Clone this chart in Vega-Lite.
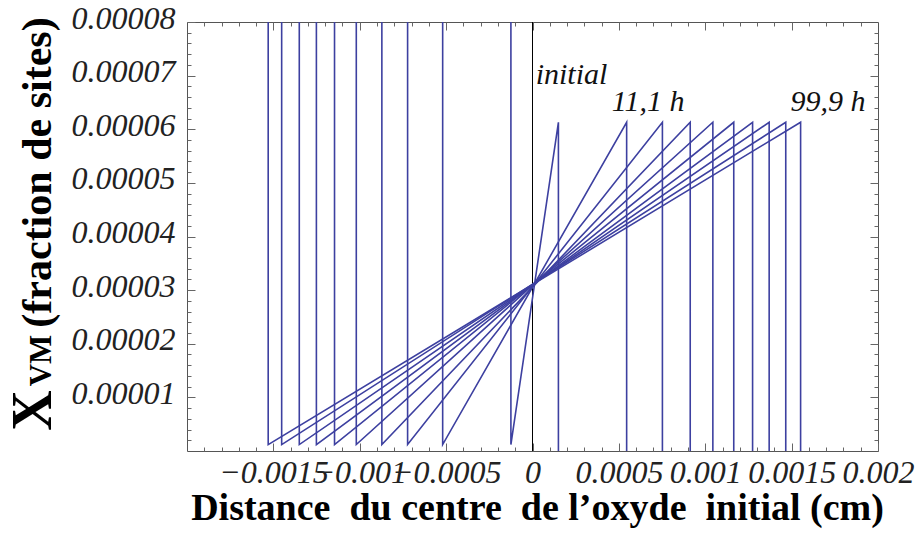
{
  "$schema": "https://vega.github.io/schema/vega-lite/v6.json",
  "width": 691,
  "height": 429,
  "autosize": "none",
  "padding": {"left": 187, "top": 22, "right": 42, "bottom": 83},
  "background": "white",
  "config": {
    "view": {"stroke": "#555555", "strokeWidth": 1},
    "axis": {"domain": false, "grid": false, "tickColor": "#666666", "tickWidth": 1, "labelFlush": false, "labelOverlap": false}
  },
  "datasets": {
    "curves": [
      {"c": "initial", "i": 0, "x": -0.000125, "y": 0.00008},
      {"c": "initial", "i": 1, "x": -0.000125, "y": 0.0000012},
      {"c": "initial", "i": 2, "x": 0.00015, "y": 0.0000613},
      {"c": "initial", "i": 3, "x": 0.00015, "y": 0},
      {"c": "t1", "i": 0, "x": -0.00052, "y": 0.00008},
      {"c": "t1", "i": 1, "x": -0.00052, "y": 0.0000012},
      {"c": "t1", "i": 2, "x": 0.000545, "y": 0.0000613},
      {"c": "t1", "i": 3, "x": 0.000545, "y": 0},
      {"c": "t2", "i": 0, "x": -0.000723, "y": 0.00008},
      {"c": "t2", "i": 1, "x": -0.000723, "y": 0.0000012},
      {"c": "t2", "i": 2, "x": 0.000752, "y": 0.0000613},
      {"c": "t2", "i": 3, "x": 0.000752, "y": 0},
      {"c": "t3", "i": 0, "x": -0.000872, "y": 0.00008},
      {"c": "t3", "i": 1, "x": -0.000872, "y": 0.0000012},
      {"c": "t3", "i": 2, "x": 0.000913, "y": 0.0000613},
      {"c": "t3", "i": 3, "x": 0.000913, "y": 0},
      {"c": "t4", "i": 0, "x": -0.00102, "y": 0.00008},
      {"c": "t4", "i": 1, "x": -0.00102, "y": 0.0000012},
      {"c": "t4", "i": 2, "x": 0.001044, "y": 0.0000613},
      {"c": "t4", "i": 3, "x": 0.001044, "y": 0},
      {"c": "t5", "i": 0, "x": -0.001146, "y": 0.00008},
      {"c": "t5", "i": 1, "x": -0.001146, "y": 0.0000012},
      {"c": "t5", "i": 2, "x": 0.001165, "y": 0.0000613},
      {"c": "t5", "i": 3, "x": 0.001165, "y": 0},
      {"c": "t6", "i": 0, "x": -0.001251, "y": 0.00008},
      {"c": "t6", "i": 1, "x": -0.001251, "y": 0.0000012},
      {"c": "t6", "i": 2, "x": 0.001274, "y": 0.0000613},
      {"c": "t6", "i": 3, "x": 0.001274, "y": 0},
      {"c": "t7", "i": 0, "x": -0.00135, "y": 0.00008},
      {"c": "t7", "i": 1, "x": -0.00135, "y": 0.0000012},
      {"c": "t7", "i": 2, "x": 0.00137, "y": 0.0000613},
      {"c": "t7", "i": 3, "x": 0.00137, "y": 0},
      {"c": "t8", "i": 0, "x": -0.001452, "y": 0.00008},
      {"c": "t8", "i": 1, "x": -0.001452, "y": 0.0000012},
      {"c": "t8", "i": 2, "x": 0.001466, "y": 0.0000613},
      {"c": "t8", "i": 3, "x": 0.001466, "y": 0},
      {"c": "t9", "i": 0, "x": -0.00153, "y": 0.00008},
      {"c": "t9", "i": 1, "x": -0.00153, "y": 0.0000012},
      {"c": "t9", "i": 2, "x": 0.001552, "y": 0.0000613},
      {"c": "t9", "i": 3, "x": 0.001552, "y": 0}
    ],
    "zero": [{"x": 0, "y0": 0, "y1": 0.00008}],
    "lab1": [{"x": 0.000226, "y": 0.00006844, "t": "initial"}],
    "lab2": [
      {"x": 0.000669, "y": 0.0000634, "t": "11,1 h"},
      {"x": 0.00171, "y": 0.0000634, "t": "99,9 h"}
    ]
  },
  "layer": [
    {
      "data": {"name": "zero"},
      "mark": {"type": "rule", "color": "#000000", "strokeWidth": 1},
      "encoding": {
        "x": {"field": "x", "type": "quantitative", "scale": {"domain": [-0.002, 0.002], "nice": false, "zero": false},
          "axis": {"orient": "bottom", "title": null, "labels": false, "tickSize": 4, "offset": -4,
            "values": [-0.0019,-0.0018,-0.0017,-0.0016,-0.0014,-0.0013,-0.0012,-0.0011,-0.0009,-0.0008,-0.0007,-0.0006,-0.0004,-0.0003,-0.0002,-0.0001,0.0001,0.0002,0.0003,0.0004,0.0006,0.0007,0.0008,0.0009,0.0011,0.0012,0.0013,0.0014,0.0016,0.0017,0.0018,0.0019]}},
        "y": {"field": "y0", "type": "quantitative", "scale": {"domain": [0, 0.00008], "nice": false},
          "axis": {"orient": "left", "title": "X", "labels": false, "tickSize": 4, "offset": -4,
            "values": [0.000002,0.000004,0.000006,0.000008,0.000012,0.000014,0.000016,0.000018,0.000022,0.000024,0.000026,0.000028,0.000032,0.000034,0.000036,0.000038,0.000042,0.000044,0.000046,0.000048,0.000052,0.000054,0.000056,0.000058,0.000062,0.000064,0.000066,0.000068,0.000072,0.000074,0.000076,0.000078],
            "titleFont": "Liberation Serif", "titleFontWeight": "bold", "titleFontSize": 56, "titleColor": "#000000",
            "titleAngle": -90, "titleAlign": "center", "titleBaseline": "alphabetic", "titleX": -141, "titleY": 388}},
        "y2": {"field": "y1"}
      }
    },
    {
      "data": {"name": "curves"},
      "mark": {"type": "line", "color": "#3d40a0", "strokeWidth": 1.6, "clip": true},
      "encoding": {
        "x": {"field": "x", "type": "quantitative", "scale": {"domain": [-0.002, 0.002], "nice": false, "zero": false},
          "axis": {"orient": "bottom", "title": "Distance\u00a0\u00a0du centre\u00a0\u00a0de l\u2019oxyde\u00a0\u00a0initial (cm)",
            "values": [-0.0015,-0.001,-0.0005,0,0.0005,0.001,0.0015,0.002],
            "format": "~r", "tickSize": 8, "offset": -8,
            "labelFont": "Liberation Serif", "labelFontStyle": "italic", "labelFontSize": 32, "labelColor": "#222222",
            "labelPadding": 6,
            "titleFont": "Liberation Serif", "titleFontWeight": "bold", "titleFontSize": 38, "titleColor": "#000000",
            "titleBaseline": "alphabetic", "titleAlign": "center", "titleX": 350, "titleY": 76}},
        "y": {"field": "y", "type": "quantitative", "scale": {"domain": [0, 0.00008], "nice": false},
          "axis": {"orient": "left", "title": "(fraction de sites)",
            "values": [0.00001,0.00002,0.00003,0.00004,0.00005,0.00006,0.00007,0.00008],
            "format": "~r", "tickSize": 8, "offset": -8,
            "labelFont": "Liberation Serif", "labelFontStyle": "italic", "labelFontSize": 32, "labelColor": "#222222",
            "labelPadding": 12, "labelBaseline": "middle", "labelOffset": -4,
            "titleFont": "Liberation Serif", "titleFontWeight": "bold", "titleFontSize": 42, "titleColor": "#000000",
            "titleAngle": -90, "titleAlign": "center", "titleBaseline": "alphabetic", "titleX": -145, "titleY": 150}},
        "detail": {"field": "c"},
        "order": {"field": "i", "type": "quantitative"}
      }
    },
    {
      "data": {"name": "lab1"},
      "mark": {"type": "text", "font": "Liberation Serif", "fontStyle": "italic", "fontSize": 30, "color": "#111111", "align": "center", "baseline": "alphabetic"},
      "encoding": {
        "x": {"field": "x", "type": "quantitative", "scale": {"domain": [-0.002, 0.002], "nice": false, "zero": false},
          "axis": {"orient": "top", "title": null, "labels": false, "tickSize": 8, "offset": -8,
            "values": [-0.0015,-0.001,-0.0005,0,0.0005,0.001,0.0015]}},
        "y": {"field": "y", "type": "quantitative", "scale": {"domain": [0, 0.00008], "nice": false},
          "axis": {"orient": "right", "title": "VM", "labels": false, "tickSize": 8, "offset": -8,
            "values": [0.00001,0.00002,0.00003,0.00004,0.00005,0.00006,0.00007],
            "titleFont": "Liberation Serif", "titleFontWeight": "bold", "titleFontSize": 31, "titleColor": "#000000",
            "titleAngle": -90, "titleAlign": "center", "titleBaseline": "alphabetic", "titleX": -820, "titleY": 338}},
        "text": {"field": "t"}
      }
    },
    {
      "data": {"name": "lab2"},
      "mark": {"type": "text", "font": "Liberation Serif", "fontStyle": "italic", "fontSize": 30, "color": "#111111", "align": "center", "baseline": "alphabetic"},
      "encoding": {
        "x": {"field": "x", "type": "quantitative", "scale": {"domain": [-0.002, 0.002], "nice": false, "zero": false},
          "axis": {"orient": "top", "title": null, "labels": false, "tickSize": 4, "offset": -4,
            "values": [-0.0019,-0.0018,-0.0017,-0.0016,-0.0014,-0.0013,-0.0012,-0.0011,-0.0009,-0.0008,-0.0007,-0.0006,-0.0004,-0.0003,-0.0002,-0.0001,0.0001,0.0002,0.0003,0.0004,0.0006,0.0007,0.0008,0.0009,0.0011,0.0012,0.0013,0.0014,0.0016,0.0017,0.0018,0.0019]}},
        "y": {"field": "y", "type": "quantitative", "scale": {"domain": [0, 0.00008], "nice": false},
          "axis": {"orient": "right", "title": null, "labels": false, "tickSize": 4, "offset": -4,
            "values": [0.000002,0.000004,0.000006,0.000008,0.000012,0.000014,0.000016,0.000018,0.000022,0.000024,0.000026,0.000028,0.000032,0.000034,0.000036,0.000038,0.000042,0.000044,0.000046,0.000048,0.000052,0.000054,0.000056,0.000058,0.000062,0.000064,0.000066,0.000068,0.000072,0.000074,0.000076,0.000078]}},
        "text": {"field": "t"}
      }
    }
  ],
  "resolve": {"axis": {"x": "independent", "y": "independent"}}
}
